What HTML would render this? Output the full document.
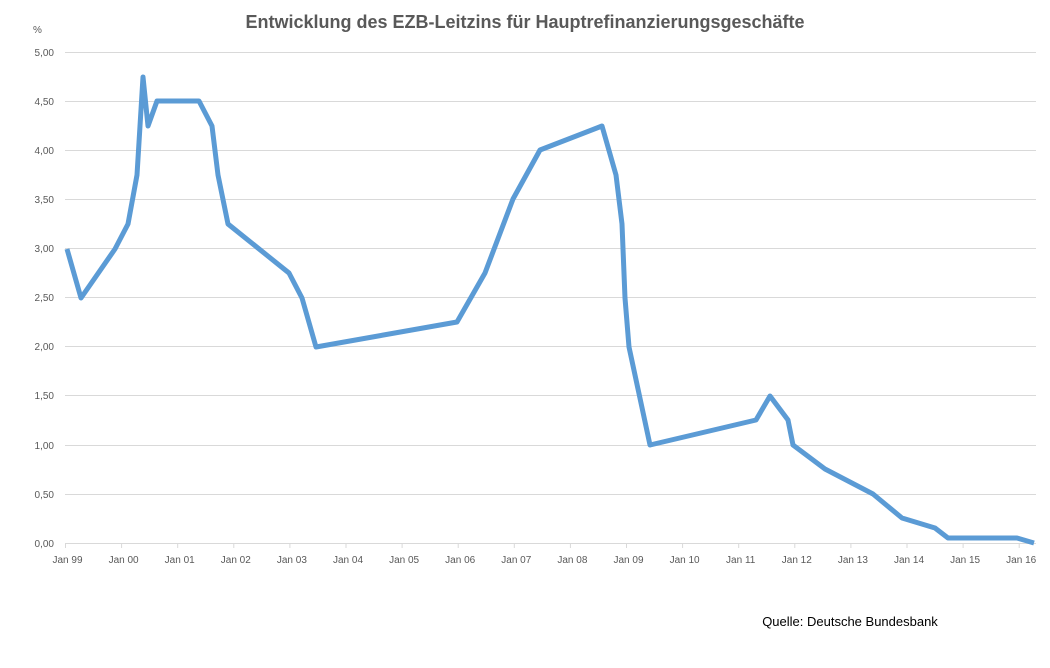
<!DOCTYPE html>
<html><head><meta charset="utf-8"><style>
body{margin:0;background:#fff;}
svg{display:block;font-family:"Liberation Sans",sans-serif;}
</style></head><body>
<svg width="1050" height="668" viewBox="0 0 1050 668">
<rect width="1050" height="668" fill="#fff"/>
<text x="525" y="28" text-anchor="middle" font-size="18" font-weight="bold" fill="#595959">Entwicklung des EZB-Leitzins für Hauptrefinanzierungsgeschäfte</text>
<text x="33" y="33" font-size="10" fill="#595959">%</text>
<g stroke="#d9d9d9" stroke-width="1">
<line x1="65" x2="1036" y1="52.5" y2="52.5"/><line x1="65" x2="1036" y1="101.5" y2="101.5"/>
<line x1="65" x2="1036" y1="150.5" y2="150.5"/><line x1="65" x2="1036" y1="199.5" y2="199.5"/>
<line x1="65" x2="1036" y1="248.5" y2="248.5"/><line x1="65" x2="1036" y1="297.5" y2="297.5"/>
<line x1="65" x2="1036" y1="346.5" y2="346.5"/><line x1="65" x2="1036" y1="395.5" y2="395.5"/>
<line x1="65" x2="1036" y1="445.5" y2="445.5"/><line x1="65" x2="1036" y1="494.5" y2="494.5"/>
<line x1="65" x2="1036" y1="543.5" y2="543.5"/>
</g>
<g font-size="10" fill="#595959" text-anchor="end">
<text x="54" y="56">5,00</text><text x="54" y="105">4,50</text><text x="54" y="154">4,00</text>
<text x="54" y="203">3,50</text><text x="54" y="252">3,00</text><text x="54" y="301">2,50</text>
<text x="54" y="350">2,00</text><text x="54" y="399">1,50</text><text x="54" y="449">1,00</text>
<text x="54" y="498">0,50</text><text x="54" y="547">0,00</text>
</g>
<g stroke="#d9d9d9" stroke-width="1" id="ticks"></g>
<g font-size="10" fill="#595959" text-anchor="middle" id="xl"></g>
<polyline fill="none" stroke="#5b9bd5" stroke-width="5" stroke-linejoin="round" points="67,249 81,298 115,249 128,224 137,175 143,77 148,126 157,101 199,101 212,126 218,175 228,224 289,273 302,298 316,347 457,322 485,273 513,199 540,150 602,126 616,175 622,224 625,298 629,347 650,445 756,420 770,396 788,420 793,445 825,469 873,494 902,518 935,528 948,538 1017,538 1034,543"/>
<text x="850" y="626" text-anchor="middle" font-size="13" fill="#000">Quelle: Deutsche Bundesbank</text>
<script>
var t=document.getElementById('ticks'),l=document.getElementById('xl'),ns='http://www.w3.org/2000/svg';
var n=['99','00','01','02','03','04','05','06','07','08','09','10','11','12','13','14','15','16'];
for(var i=0;i<18;i++){var x=65.5+i*56.1;var ln=document.createElementNS(ns,'line');ln.setAttribute('x1',x);ln.setAttribute('x2',x);ln.setAttribute('y1',543);ln.setAttribute('y2',548);t.appendChild(ln);
var tx=document.createElementNS(ns,'text');tx.setAttribute('x',x+2);tx.setAttribute('y',563);tx.textContent='Jan '+n[i];l.appendChild(tx);}
</script>
</svg>
</body></html>
